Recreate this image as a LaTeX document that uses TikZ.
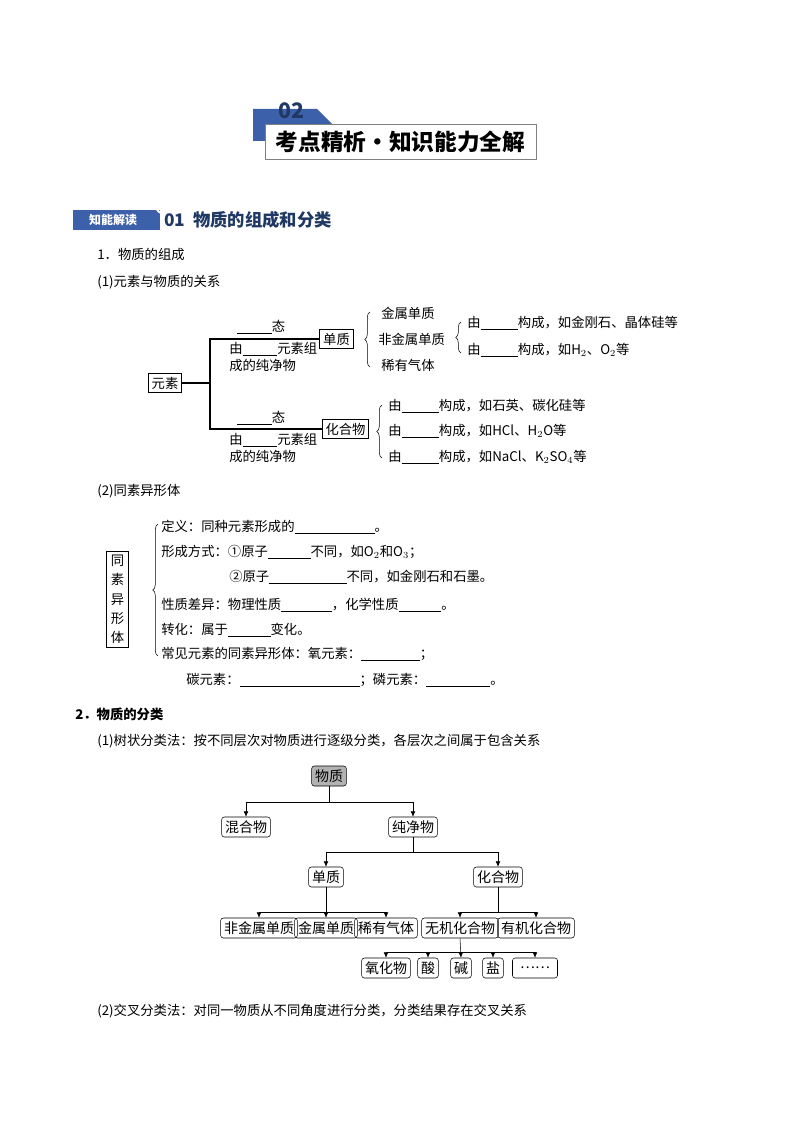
\documentclass[tikz,border=0pt]{standalone}
\usepackage{fontspec}
\setmainfont{Noto Sans CJK SC}
\usetikzlibrary{arrows.meta, positioning, calc, decorations.pathreplacing}
\definecolor{bandblue}{RGB}{60,96,170}
\definecolor{darkblue}{RGB}{31,56,100}
\newcommand{\blank}[1]{\underline{\hspace{#1}}}

\begin{document}
\begin{tikzpicture}[
        x=0.75pt, y=-0.75pt,
        txt/.style={anchor=west, inner sep=0pt, font=\fontsize{10}{12}\selectfont},
        box/.style={draw, thick, inner sep=2.5pt, font=\fontsize{10}{12}\selectfont},
        tbox/.style={draw, rounded corners=2pt, inner sep=2.5pt, minimum height=20pt*0.75, font=\fontsize{10.5}{12}\selectfont},
        arr/.style={-{Latex[length=4pt,width=3.5pt]}},
        brace/.style={decorate, decoration={brace, amplitude=4pt}}
    ]
        \useasboundingbox (0,0) rectangle (794,1123);

        % Banner
        \fill[bandblue] (253,109) -- (317,109) -- (332,124) -- (265,124) -- (265,141) -- (253,141) -- cycle;
        \node[font=\bfseries\fontsize{16}{16}\selectfont, text=darkblue, inner sep=0pt] (num) at (291,111) {02};
        \node[draw=gray, fill=white, minimum width=271*0.75pt, minimum height=35*0.75pt, inner sep=0pt,
              font=\bfseries\fontsize{17}{17}\selectfont] (title) at (400.5,141.5) {考点精析·知识能力全解};

        % Section header
        \fill[bandblue] (73,210) rectangle (160,230);
        \draw[white, line width=1.5pt] (161,213) arc[start angle=110, end angle=250, radius=7.5];
        \node[text=white, font=\bfseries\itshape\fontsize{9}{9}\selectfont, inner sep=0pt] (zhi) at (113,220) {知能解读};
        \node[txt, text=darkblue, font=\bfseries\fontsize{13}{13}\selectfont] (sec) at (164,220) {01\ \ 物质的组成和分类};

        \node[txt] (s1) at (97,254) {1．物质的组成};
        \node[txt] (s11) at (97,282) {(1)元素与物质的关系};

        % Diagram 1
        \node[box] (ys) at (165,383) {元素};
        \node[box] (dz) at (336.5,339) {单质};
        \node[box] (hhw) at (345.5,429) {化合物};
        \coordinate (jt) at (210,383);
        \draw[thick] (ys.east) -- (jt);
        \draw[thick] (dz.west) -| (jt) |- (hhw.west);

        \node[txt] (t1) at (237,327) {\blank{26pt}态};
        \node[txt] (t2) at (229,349) {由\blank{26pt}元素组};
        \node[txt] (t3) at (229,365) {成的纯净物};
        \node[txt] (b1) at (237,418) {\blank{26pt}态};
        \node[txt] (b2) at (229,440) {由\blank{26pt}元素组};
        \node[txt] (b3) at (229,456) {成的纯净物};

        \draw[brace] (370,367) -- (370,312);
        \node[txt] (js) at (381,313) {金属单质};
        \node[txt] (fjs) at (378,339) {非金属单质};
        \node[txt] (xy) at (381,365) {稀有气体};

        \draw[brace] (461,353) -- (461,322);
        \node[txt] (f1) at (467,323) {由\blank{28pt}构成，如金刚石、晶体硅等};
        \node[txt] (f2) at (467,350) {由\blank{28pt}构成，如H$_2$、O$_2$等};

        \draw[brace] (382,458) -- (382,405);
        \node[txt] (h1) at (388,406) {由\blank{28pt}构成，如石英、碳化硅等};
        \node[txt] (h2) at (388,431) {由\blank{28pt}构成，如HCl、H$_2$O等};
        \node[txt] (h3) at (388,457) {由\blank{28pt}构成，如NaCl、K$_2$SO$_4$等};

        % Diagram 2
        \node[txt] (s12) at (97,491) {(2)同素异形体};
        \node[draw, thick, inner sep=3pt, align=center, font=\fontsize{10}{14.5}\selectfont] (tsy) at (117.5,599.5) {同\\素\\异\\形\\体};
        \draw[brace] (158,656) -- (158,524);
        \node[txt] (d1) at (161,527) {定义：同种元素形成的\blank{60pt}。};
        \node[txt] (d2) at (161,552) {形成方式：①原子\blank{32pt}不同，如O$_2$和O$_3$；};
        \node[txt] (d3) at (229,577) {②原子\blank{58pt}不同，如金刚石和石墨。};
        \node[txt] (d4) at (161,605) {性质差异：物理性质\blank{38pt}，化学性质\blank{32pt}。};
        \node[txt] (d5) at (161,630) {转化：属于\blank{32pt}变化。};
        \node[txt] (d6) at (161,654) {常见元素的同素异形体：氧元素：\blank{44pt}；};
        \node[txt] (d7) at (186,680) {碳元素：\blank{90pt}；磷元素：\blank{48pt}。};

        \node[txt, font=\bfseries\fontsize{10}{12}\selectfont] (s2) at (75,714) {2．物质的分类};
        \node[txt] (s21) at (97,741) {(1)树状分类法：按不同层次对物质进行逐级分类，各层次之间属于包含关系};

        % Tree
        \node[tbox, fill=gray!60] (wz) at (329,776) {物质};
        \node[tbox] (hhw2) at (246,827) {混合物};
        \node[tbox] (cjw) at (413,827) {纯净物};
        \node[tbox] (dz2) at (326,877) {单质};
        \node[tbox] (hhw3) at (498,877) {化合物};
        \node[tbox] (fjsdz) at (259,928) {非金属单质};
        \node[tbox] (jsdz) at (326,928) {金属单质};
        \node[tbox] (xyqt) at (386,928) {稀有气体};
        \node[tbox] (wjhhw) at (460,928) {无机化合物};
        \node[tbox] (yjhhw) at (536,928) {有机化合物};
        \node[tbox] (yhw) at (386,968) {氧化物};
        \node[tbox] (suan) at (428,968) {酸};
        \node[tbox] (jian) at (461,968) {碱};
        \node[tbox] (yan) at (493,968) {盐};
        \node[tbox, minimum width=45*0.75pt] (etc) at (535,968) {……};

        \draw[arr] (wz.south) -- ++(0,16) coordinate (k1) -| (hhw2.north);
        \draw[arr] (k1) -| (cjw.north);
        \draw[arr] (cjw.south) -- ++(0,15) coordinate (k2) -| (dz2.north);
        \draw[arr] (k2) -| (hhw3.north);
        \draw[arr] (dz2.south) -- (jsdz.north);
        \coordinate (k3) at ($(dz2.south)+(0,25)$);
        \draw[arr] (k3) -| (fjsdz.north);
        \draw[arr] (k3) -| (xyqt.north);
        \draw (hhw3.south) -- ++(0,25) coordinate (k4);
        \draw[arr] (k4) -| (wjhhw.north);
        \draw[arr] (k4) -| (yjhhw.north);
        \draw[arr] (wjhhw.south) -- (jian.north);
        \coordinate (k5) at ($(wjhhw.south)+(0,14)$);
        \draw[arr] (k5) -| (yhw.north);
        \draw[arr] (k5) -| (suan.north);
        \draw[arr] (k5) -| (yan.north);
        \draw[arr] (k5) -| (etc.north);

        \node[txt] (s22) at (97,1011) {(2)交叉分类法：对同一物质从不同角度进行分类，分类结果存在交叉关系};
    \end{tikzpicture}
\end{document}
